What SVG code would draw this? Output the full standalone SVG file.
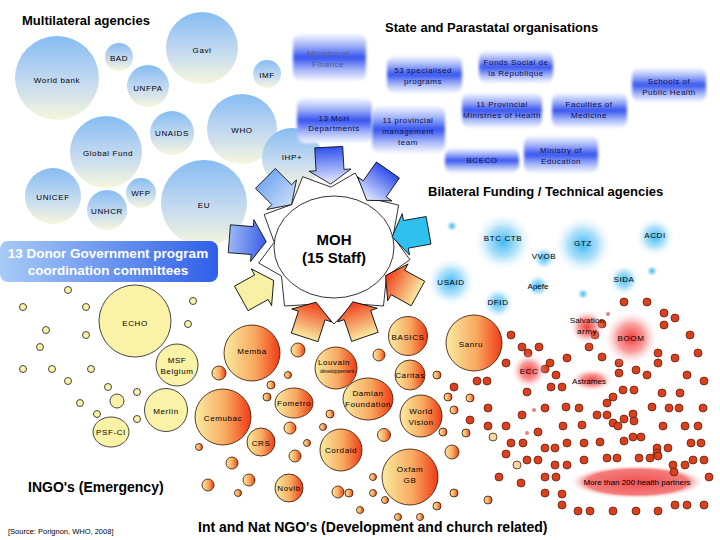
<svg xmlns="http://www.w3.org/2000/svg" width="720" height="540" viewBox="0 0 720 540">
<defs>
<linearGradient id="mg" x1="0" y1="0" x2="0" y2="1"><stop offset="0" stop-color="#86bcf2"/><stop offset="0.55" stop-color="#c4daf0"/><stop offset="1" stop-color="#f6f6dc"/></linearGradient>
<linearGradient id="bx" x1="0" y1="0" x2="0" y2="1"><stop offset="0" stop-color="#f6f8ff"/><stop offset="0.25" stop-color="#a0b2f8"/><stop offset="0.5" stop-color="#3452f0"/><stop offset="0.75" stop-color="#a0b2f8"/><stop offset="1" stop-color="#f6f8ff"/></linearGradient>
<linearGradient id="donor" x1="0" y1="0" x2="1" y2="0"><stop offset="0" stop-color="#a8cbf6"/><stop offset="1" stop-color="#2f5fe8"/></linearGradient>
<linearGradient id="og" x1="0" y1="0" x2="1" y2="0"><stop offset="0" stop-color="#f8eca0"/><stop offset="0.55" stop-color="#f8a860"/><stop offset="1" stop-color="#f03a14"/></linearGradient>
<radialGradient id="bb"><stop offset="0" stop-color="#38b4f0" stop-opacity="0.95"/><stop offset="0.5" stop-color="#6cc8f6" stop-opacity="0.55"/><stop offset="1" stop-color="#ffffff" stop-opacity="0"/></radialGradient>
<radialGradient id="rb"><stop offset="0" stop-color="#f02828" stop-opacity="0.9"/><stop offset="0.5" stop-color="#f45050" stop-opacity="0.55"/><stop offset="1" stop-color="#ffffff" stop-opacity="0"/></radialGradient>
<radialGradient id="rb2"><stop offset="0" stop-color="#f03c3c" stop-opacity="0.9"/><stop offset="0.75" stop-color="#f05050" stop-opacity="0.75"/><stop offset="1" stop-color="#ffffff" stop-opacity="0"/></radialGradient>
<linearGradient id="aBlue" x1="1" y1="0" x2="0" y2="0"><stop offset="0" stop-color="#3050ee"/><stop offset="1" stop-color="#e8eeff"/></linearGradient>
<linearGradient id="aLight" x1="1" y1="0" x2="0" y2="0"><stop offset="0" stop-color="#7aaaf0"/><stop offset="1" stop-color="#c8ddf8"/></linearGradient>
<linearGradient id="aMid" x1="1" y1="0" x2="0" y2="0"><stop offset="0" stop-color="#9ab8f4"/><stop offset="1" stop-color="#3a5ce8"/></linearGradient>
<linearGradient id="aRed" x1="1" y1="0" x2="0" y2="0"><stop offset="0" stop-color="#f8eaa0"/><stop offset="1" stop-color="#f03a18"/></linearGradient>
<filter id="soft" x="-10%" y="-20%" width="120%" height="140%"><feGaussianBlur stdDeviation="1.4"/></filter>
<path id="arr" d="M0,0 L14,-21 L14,-14 L37,-14 L37,14 L14,14 L14,21 Z"/>
</defs>
<style>
.t{font-family:"Liberation Sans",Arial,sans-serif;font-weight:bold;fill:#000}
.l{font-family:"Liberation Sans",Arial,sans-serif;font-size:8px;letter-spacing:0.6px;text-anchor:middle;fill:#000}
.bl{font-family:"Liberation Sans",Arial,sans-serif;font-size:8px;letter-spacing:0.5px;text-anchor:middle;fill:#10124a}
.mc{fill:url(#mg)}
.box{fill:url(#bx);filter:url(#soft)}
.y{fill:#faf2a6;stroke:#333;stroke-width:0.9}
.o{fill:url(#og);stroke:#4a2410;stroke-width:0.9}
.op{fill:#f6d8a0;stroke:#4a2410;stroke-width:0.8}
.r{fill:#d8401e;stroke:#6a1a0a;stroke-width:0.8}
.ar{stroke:#000;stroke-width:0.8}
</style>
<rect width="720" height="540" fill="#ffffff"/>

<!-- Multilateral agencies -->
<text class="t" x="22" y="25" font-size="13">Multilateral agencies</text>
<g id="n-gavi"><circle class="mc" cx="202" cy="48" r="36"/><text class="l" x="202" y="53">Gavi</text></g>
<g id="n-bad"><circle class="mc" cx="119" cy="57" r="14"/><text class="l" x="119" y="61">BAD</text></g>
<g id="n-worldbank"><circle class="mc" cx="57" cy="78" r="42"/><text class="l" x="57" y="83">World bank</text></g>
<g id="n-unfpa"><circle class="mc" cx="148" cy="86" r="21"/><text class="l" x="148" y="91">UNFPA</text></g>
<g id="n-imf"><circle class="mc" cx="267" cy="74" r="14"/><text class="l" x="267" y="78">IMF</text></g>
<g id="n-unaids"><circle class="mc" cx="172" cy="133" r="22"/><text class="l" x="172" y="136">UNAIDS</text></g>
<g id="n-who"><circle class="mc" cx="242" cy="129" r="35"/><text class="l" x="242" y="133">WHO</text></g>
<g id="n-globalfund"><circle class="mc" cx="106" cy="152" r="36"/><text class="l" x="108" y="156">Global Fund</text></g>
<g id="n-ihp"><circle class="mc" cx="292" cy="158" r="30"/><text class="l" x="292" y="160">IHP+</text></g>
<g id="n-unicef"><circle class="mc" cx="53" cy="196" r="28"/><text class="l" x="53" y="200">UNICEF</text></g>
<g id="n-wfp"><circle class="mc" cx="141" cy="193" r="15"/><text class="l" x="141" y="196">WFP</text></g>
<g id="n-unhcr"><circle class="mc" cx="107" cy="210" r="20"/><text class="l" x="107" y="214">UNHCR</text></g>
<g id="n-eu"><circle class="mc" cx="204" cy="203" r="43"/><text class="l" x="204" y="208">EU</text></g>

<!-- State and Parastatal organisations -->
<text class="t" x="385" y="32" font-size="13">State and Parastatal organisations</text>
<g id="n-minfin"><rect class="box" x="293" y="34" width="73" height="47" rx="8"/><text class="bl" x="328" y="56" style="fill:#5a6090">Ministry of</text><text class="bl" x="328" y="67" style="fill:#5a6090">Finance</text></g>
<g id="n-53prog"><rect class="box" x="387" y="56" width="75" height="37" rx="8"/><text class="bl" x="423" y="73">53 specialised</text><text class="bl" x="423" y="84">programs</text></g>
<g id="n-fonds"><rect class="box" x="479" y="51" width="74" height="32" rx="8"/><text class="bl" x="516" y="65">Fonds Social de</text><text class="bl" x="516" y="76">la République</text></g>
<g id="n-schools"><rect class="box" x="632" y="68" width="74" height="34" rx="8"/><text class="bl" x="669" y="84">Schools of</text><text class="bl" x="669" y="95">Public Health</text></g>
<g id="n-13moh"><rect class="box" x="297" y="98" width="75" height="45" rx="8"/><text class="bl" x="334" y="121">13 MoH</text><text class="bl" x="334" y="131">Departments</text></g>
<g id="n-11pmt"><rect class="box" x="372" y="106" width="73" height="47" rx="8"/><text class="bl" x="408" y="123">11 provincial</text><text class="bl" x="408" y="134">management</text><text class="bl" x="408" y="145">team</text></g>
<g id="n-11prov"><rect class="box" x="462" y="93" width="80" height="35" rx="8"/><text class="bl" x="502" y="107">11 Provincial</text><text class="bl" x="502" y="118">Ministries of Health</text></g>
<g id="n-fac"><rect class="box" x="552" y="93" width="75" height="35" rx="8"/><text class="bl" x="589" y="107">Faculties of</text><text class="bl" x="589" y="118">Medicine</text></g>
<g id="n-bceco"><rect class="box" x="445" y="148" width="74" height="25" rx="8"/><text class="bl" x="482" y="163">BCECO</text></g>
<g id="n-minedu"><rect class="box" x="524" y="136" width="74" height="37" rx="8"/><text class="bl" x="561" y="153">Ministry of</text><text class="bl" x="561" y="164">Education</text></g>

<!-- Bilateral -->
<text class="t" x="428" y="196" font-size="13">Bilateral Funding / Technical agencies</text>
<g id="n-btc"><circle cx="503" cy="242" r="30" fill="url(#bb)"/><text class="l" x="503" y="241">BTC CTB</text></g>
<g id="n-gtz"><circle cx="583" cy="245" r="30" fill="url(#bb)"/><text class="l" x="583" y="246">GTZ</text></g>
<g id="n-acdi"><circle cx="655" cy="237" r="20" fill="url(#bb)"/><text class="l" x="655" y="238">ACDI</text></g>
<g id="n-vvob"><circle cx="544" cy="258" r="12" fill="url(#bb)"/><text class="l" x="544" y="259">VVOB</text></g>
<g id="n-usaid"><circle cx="451" cy="282" r="25" fill="url(#bb)"/><text class="l" x="451" y="285">USAID</text></g>
<g id="n-apefe"><circle cx="538" cy="286" r="12" fill="url(#bb)"/><text class="l" x="538" y="289" style="letter-spacing:0">Apefe</text></g>
<g id="n-sida"><circle cx="624" cy="280" r="16" fill="url(#bb)"/><text class="l" x="624" y="282">SIDA</text></g>
<g id="n-dfid"><circle cx="498" cy="303" r="16" fill="url(#bb)"/><text class="l" x="498" y="305">DFID</text></g>
<g id="blue-dots"><circle cx="452" cy="226" r="6" fill="url(#bb)"/><circle cx="652" cy="271" r="6" fill="url(#bb)"/><circle cx="583" cy="294" r="6" fill="url(#bb)"/></g>

<!-- Donor committees box -->
<g id="n-donor"><rect x="0" y="241" width="218" height="41" rx="8" fill="url(#donor)"/><text class="t" x="108" y="258" font-size="13.5" text-anchor="middle" style="fill:#fff">13 Donor Government program</text><text class="t" x="108" y="275" font-size="13.5" text-anchor="middle" style="fill:#fff">coordination committees</text></g>

<!-- INGO emergency -->
<g id="ingo-small">
<circle class="y" cx="68" cy="290" r="3.5"/><circle class="y" cx="23" cy="307" r="3.5"/><circle class="y" cx="86" cy="307" r="3.5"/><circle class="y" cx="193" cy="301" r="3.5"/><circle class="y" cx="188" cy="324" r="3.5"/><circle class="y" cx="46" cy="330" r="3.5"/><circle class="y" cx="86" cy="335" r="3.5"/><circle class="y" cx="40" cy="347" r="3.5"/><circle class="y" cx="23" cy="369" r="3.5"/><circle class="y" cx="52" cy="369" r="3.5"/><circle class="y" cx="91" cy="369" r="3.5"/><circle class="y" cx="68" cy="381" r="3.5"/><circle class="y" cx="108" cy="387" r="3.5"/><circle class="y" cx="137" cy="392" r="3.5"/><circle class="y" cx="117" cy="401" r="7"/><circle class="y" cx="80" cy="403" r="3.5"/><circle class="y" cx="97" cy="414" r="3.5"/><circle class="y" cx="137" cy="419" r="3.5"/>
</g>
<g id="n-echo"><circle class="y" cx="135" cy="321" r="36"/><text class="l" x="135" y="326">ECHO</text></g>
<g id="n-msf"><circle class="y" cx="177" cy="365" r="21"/><text class="l" x="177" y="363">MSF</text><text class="l" x="177" y="374">Belgium</text></g>
<g id="n-merlin"><circle class="y" cx="166" cy="410" r="21.5"/><text class="l" x="166" y="414">Merlin</text></g>
<g id="n-psf"><ellipse class="y" cx="111" cy="432" rx="18" ry="15"/><text class="l" x="111" y="435">PSF-CI</text></g>
<text class="t" x="28" y="492" font-size="14">INGO's (Emergency)</text>
<text x="8" y="534" font-family="Liberation Sans, Arial, sans-serif" font-size="7.5" fill="#000">[Source: Porignon, WHO, 2008]</text>

<!-- NGO development -->
<g id="ngo-small">
<circle class="o" cx="298" cy="350" r="7"/><circle class="o" cx="219" cy="373" r="7"/><circle class="o" cx="379" cy="355" r="6"/><circle class="o" cx="271" cy="385" r="4"/><circle class="o" cx="288" cy="375" r="3.5"/><circle class="o" cx="267" cy="397" r="4"/><circle class="o" cx="330" cy="414" r="4"/><circle class="o" cx="323" cy="427" r="3.5"/><circle class="o" cx="290" cy="428" r="6"/><circle class="o" cx="307" cy="443" r="3.5"/><circle class="o" cx="295" cy="456" r="6"/><circle class="o" cx="384" cy="435" r="6.5"/><circle class="o" cx="199" cy="447" r="3.5"/><circle class="o" cx="232" cy="463" r="6"/><circle class="o" cx="249" cy="480" r="6"/><circle class="o" cx="208" cy="485" r="6"/><circle class="o" cx="238" cy="493" r="3.5"/><circle class="o" cx="338" cy="492" r="6"/><circle class="o" cx="360" cy="510" r="3.5"/><circle class="o" cx="373" cy="477" r="3.5"/><circle class="o" cx="373" cy="493" r="3.5"/><circle class="o" cx="385" cy="500" r="3.5"/><circle class="o" cx="398" cy="517" r="3.5"/><circle class="o" cx="420" cy="517" r="3.5"/><circle class="o" cx="437" cy="375" r="4"/><circle class="o" cx="448" cy="397" r="4"/><circle class="o" cx="454" cy="410" r="4"/><circle class="o" cx="443" cy="432" r="4"/><circle class="o" cx="452" cy="452" r="7"/><circle class="o" cx="454" cy="493" r="4"/><circle class="o" cx="437" cy="506" r="4"/><circle class="o" cx="349" cy="493" r="4"/><circle class="o" cx="488" cy="500" r="4"/><circle class="o" cx="470" cy="398" r="4"/><circle class="o" cx="466" cy="433" r="4"/><circle class="op" cx="493" cy="437" r="4"/><circle class="op" cx="517" cy="465" r="4"/>
</g>
<g id="n-memba"><circle class="o" cx="252" cy="353" r="28"/><text class="l" x="252" y="354">Memba</text></g>
<g id="n-louvain"><circle class="o" cx="336" cy="368" r="21"/><text class="l" x="334" y="365">Louvain</text><text class="l" x="337" y="373" style="font-size:5px;letter-spacing:0">développement</text></g>
<g id="n-basics"><circle class="o" cx="408" cy="336" r="19.5"/><text class="l" x="408" y="340">BASICS</text></g>
<g id="n-sanru"><circle class="o" cx="474" cy="343" r="28"/><text class="l" x="471" y="347">Sanru</text></g>
<g id="n-caritas"><circle class="o" cx="410" cy="375" r="15"/><text class="l" x="410" y="378">Caritas</text></g>
<g id="n-damian"><ellipse class="o" cx="368" cy="399" rx="25" ry="21"/><text class="l" x="368" y="396">Damian</text><text class="l" x="368" y="407">Foundation</text></g>
<g id="n-worldvision"><circle class="o" cx="421" cy="416" r="21"/><text class="l" x="421" y="414">World</text><text class="l" x="421" y="425">Vision</text></g>
<g id="n-fometro"><ellipse class="o" cx="294" cy="403" rx="19" ry="15"/><text class="l" x="294" y="406">Fometro</text></g>
<g id="n-cemubac"><circle class="o" cx="223" cy="417" r="28"/><text class="l" x="223" y="421">Cemubac</text></g>
<g id="n-crs"><circle class="o" cx="261" cy="442" r="14"/><text class="l" x="261" y="446">CRS</text></g>
<g id="n-cordaid"><circle class="o" cx="341" cy="450" r="21"/><text class="l" x="341" y="453">Cordaid</text></g>
<g id="n-novib"><circle class="o" cx="289" cy="488" r="14"/><text class="l" x="289" y="491">Novib</text></g>
<g id="n-oxfam"><circle class="o" cx="410" cy="477" r="28"/><text class="l" x="410" y="472">Oxfam</text><text class="l" x="410" y="483">GB</text></g>

<!-- red field -->
<g id="n-partners"><ellipse cx="637" cy="482" rx="68" ry="17" fill="url(#rb2)"/></g>
<g id="red-dots">
<circle class="r" cx="624" cy="302" r="4"/><circle class="r" cx="647" cy="302" r="4"/><circle class="r" cx="664" cy="313" r="4"/><circle class="r" cx="675" cy="318" r="4"/><circle class="r" cx="664" cy="325" r="4"/><circle class="r" cx="602" cy="324" r="4"/><circle class="r" cx="511" cy="335" r="4"/><circle class="r" cx="595" cy="335" r="4"/><circle class="r" cx="690" cy="335" r="4"/><circle class="r" cx="522" cy="347" r="4"/><circle class="r" cx="539" cy="347" r="4"/><circle class="r" cx="528" cy="353" r="4"/><circle class="r" cx="589" cy="347" r="4"/><circle class="r" cx="658" cy="353" r="4"/><circle class="r" cx="698" cy="353" r="4"/><circle class="r" cx="567" cy="358" r="4"/><circle class="r" cx="602" cy="357" r="4"/><circle class="r" cx="675" cy="358" r="4"/><circle class="r" cx="506" cy="363" r="4"/><circle class="r" cx="550" cy="363" r="4"/><circle class="r" cx="619" cy="363" r="4"/><circle class="r" cx="658" cy="363" r="4"/><circle class="r" cx="545" cy="369" r="4"/><circle class="r" cx="556" cy="375" r="4"/><circle class="r" cx="619" cy="373" r="4"/><circle class="r" cx="636" cy="370" r="4"/><circle class="r" cx="647" cy="375" r="4"/><circle class="r" cx="687" cy="375" r="4"/><circle class="r" cx="704" cy="381" r="4"/><circle class="r" cx="487" cy="381" r="4"/><circle class="r" cx="477" cy="381" r="4"/><circle class="r" cx="454" cy="387" r="4"/><circle class="r" cx="551" cy="387" r="4"/><circle class="r" cx="562" cy="387" r="4"/><circle class="r" cx="527" cy="392" r="4"/><circle class="r" cx="623" cy="390" r="4"/><circle class="r" cx="634" cy="390" r="4"/><circle class="r" cx="662" cy="393" r="4"/><circle class="r" cx="680" cy="393" r="4"/><circle class="r" cx="613" cy="397" r="4"/><circle class="r" cx="607" cy="403" r="4"/><circle class="r" cx="488" cy="408" r="4"/><circle class="r" cx="545" cy="408" r="4"/><circle class="r" cx="566" cy="407" r="4"/><circle class="r" cx="579" cy="408" r="4"/><circle class="r" cx="597" cy="415" r="4"/><circle class="r" cx="607" cy="415" r="4"/><circle class="r" cx="652" cy="407" r="4"/><circle class="r" cx="669" cy="408" r="4"/><circle class="r" cx="679" cy="408" r="4"/><circle class="r" cx="703" cy="408" r="4"/><circle class="r" cx="522" cy="415" r="4"/><circle class="r" cx="624" cy="419" r="4"/><circle class="r" cx="633" cy="414" r="4"/><circle class="r" cx="470" cy="420" r="4"/><circle class="r" cx="488" cy="426" r="4"/><circle class="r" cx="506" cy="426" r="4"/><circle class="r" cx="563" cy="426" r="4"/><circle class="r" cx="582" cy="425" r="4"/><circle class="r" cx="613" cy="423" r="4"/><circle class="r" cx="618" cy="426" r="4"/><circle class="r" cx="634" cy="421" r="4"/><circle class="r" cx="663" cy="426" r="4"/><circle class="r" cx="685" cy="426" r="4"/><circle class="r" cx="698" cy="426" r="4"/><circle class="r" cx="538" cy="432" r="4"/><circle class="r" cx="641" cy="437" r="4"/><circle class="r" cx="624" cy="441" r="4"/><circle class="r" cx="511" cy="443" r="4"/><circle class="r" cx="523" cy="443" r="4"/><circle class="r" cx="545" cy="448" r="4"/><circle class="r" cx="555" cy="448" r="4"/><circle class="r" cx="567" cy="443" r="4"/><circle class="r" cx="584" cy="443" r="4"/><circle class="r" cx="600" cy="442" r="4"/><circle class="r" cx="633" cy="437" r="4"/><circle class="r" cx="657" cy="448" r="4"/><circle class="r" cx="668" cy="448" r="4"/><circle class="r" cx="691" cy="443" r="4"/><circle class="r" cx="701" cy="443" r="4"/><circle class="r" cx="506" cy="454" r="4"/><circle class="r" cx="527" cy="460" r="4"/><circle class="r" cx="538" cy="460" r="4"/><circle class="r" cx="555" cy="465" r="4"/><circle class="r" cx="567" cy="465" r="4"/><circle class="r" cx="584" cy="460" r="4"/><circle class="r" cx="607" cy="458" r="4"/><circle class="r" cx="617" cy="458" r="4"/><circle class="r" cx="639" cy="458" r="4"/><circle class="r" cx="650" cy="458" r="4"/><circle class="r" cx="657" cy="453" r="4"/><circle class="r" cx="658" cy="456" r="4"/><circle class="r" cx="673" cy="465" r="4"/><circle class="r" cx="685" cy="465" r="4"/><circle class="r" cx="693" cy="460" r="4"/><circle class="r" cx="704" cy="460" r="4"/><circle class="r" cx="674" cy="472" r="4"/><circle class="r" cx="709" cy="477" r="4"/><circle class="r" cx="499" cy="477" r="4"/><circle class="r" cx="545" cy="477" r="4"/><circle class="r" cx="556" cy="477" r="4"/><circle class="r" cx="521" cy="483" r="4"/><circle class="r" cx="545" cy="493" r="4"/><circle class="r" cx="562" cy="494" r="4"/><circle class="r" cx="562" cy="505" r="4"/><circle class="r" cx="578" cy="511" r="4"/><circle class="r" cx="590" cy="511" r="4"/><circle class="r" cx="613" cy="511" r="4"/><circle class="r" cx="636" cy="511" r="4"/><circle class="r" cx="658" cy="511" r="4"/><circle class="r" cx="675" cy="505" r="4"/><circle class="r" cx="687" cy="505" r="4"/><circle class="r" cx="704" cy="505" r="4"/>
<circle cx="608" cy="314" r="2" fill="#e88080"/><circle cx="534" cy="410" r="2" fill="#e88080"/><circle cx="527" cy="433" r="2" fill="#e88080"/>
</g>
<g id="n-salvation"><circle cx="587" cy="327" r="18" fill="url(#rb)"/><text class="l" x="587" y="323" style="letter-spacing:0.2px">Salvation</text><text class="l" x="587" y="334">army</text></g>
<g id="n-boom"><circle cx="631" cy="338" r="28" fill="url(#rb)"/><text class="l" x="631" y="341">BOOM</text></g>
<g id="n-ecc"><circle cx="529" cy="371" r="18" fill="url(#rb)"/><text class="l" x="529" y="374">ECC</text></g>
<g id="n-astrames"><ellipse cx="592" cy="380" rx="22" ry="12" fill="url(#rb)"/><text class="l" x="589" y="384" style="letter-spacing:0">Astrames</text></g>
<text class="l" x="637" y="485" style="letter-spacing:0;font-size:8px">More than 200 health partners</text>
<text class="t" x="198" y="532" font-size="14">Int and Nat NGO's (Development and church related)</text>

<!-- MOH gear -->
<g id="n-moh">
<polygon points="409.9,259.7 386.5,276.1 383.5,306 353.5,303.7 334,324 315.5,304.1 284.5,306 281.5,276.1 258.7,263 274.2,242.3 264.2,214.5 291.6,204.6 302.7,176.7 330.9,187.1 355.2,173 368.4,197.8 398.6,205.1 393.1,236.6" fill="#fff" stroke="#000" stroke-width="0.8"/>
<ellipse cx="334" cy="247" rx="60" ry="51" fill="#fff" stroke="#000" stroke-width="0.8"/>
<text class="t" x="334" y="245" font-size="15" text-anchor="middle">MOH</text>
<text class="t" x="334" y="263" font-size="15" text-anchor="middle">(15 Staff)</text>
</g>
<g id="connectors">
<use href="#arr" class="ar" fill="url(#aBlue)" transform="translate(334,247) rotate(267) translate(63,0)"/>
<use href="#arr" class="ar" fill="url(#aLight)" transform="translate(334,247) rotate(225) translate(60,0)"/>
<use href="#arr" class="ar" fill="url(#aBlue)" transform="translate(334,247) rotate(305) translate(57,0)"/>
<use href="#arr" class="ar" fill="url(#aMid)" transform="translate(334,247) rotate(184.5) translate(68,0)"/>
<use href="#arr" class="ar" fill="#30c0f0" transform="translate(334,247) rotate(350) translate(59,0)"/>
<use href="#arr" class="ar" fill="#f8f0a4" transform="translate(334,247) rotate(151) translate(69,0)"/>
<use href="#arr" class="ar" fill="url(#aRed)" transform="translate(334,247) rotate(29) translate(59,0)"/>
<use href="#arr" class="ar" fill="url(#aRed)" transform="translate(334,247) rotate(108) translate(58,0)"/>
<use href="#arr" class="ar" fill="url(#aRed)" transform="translate(334,247) rotate(71) translate(58,0)"/>
</g>
</svg>
